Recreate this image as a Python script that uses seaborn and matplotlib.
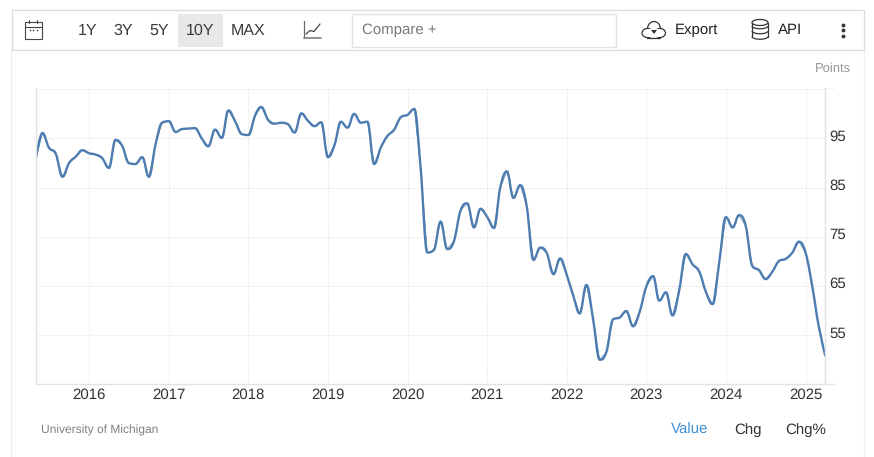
""" Consumer sentiment chart with its toolbar, as seen on the source page. """

import matplotlib.pyplot as plt
import numpy as np
import pandas as pd
import seaborn as sns
from matplotlib.patches import Arc, Ellipse, PathPatch, Polygon, Rectangle
from matplotlib.path import Path
from matplotlib.transforms import ScaledTranslation

# Monthly index values, May 2015 to April 2025
values_2015 = [90.7, 96.1, 93.1, 91.9, 87.2, 90.0, 91.3, 92.6]
values_2016 = [92.0, 91.7, 91.0, 89.0, 94.7, 93.5, 90.0, 89.8, 91.2, 87.2, 93.8, 98.2]
values_2017 = [98.5, 96.3, 96.9, 97.0, 97.1, 95.0, 93.4, 96.8, 95.1, 100.7, 98.5, 95.9]
values_2018 = [95.7, 99.7, 101.4, 98.8, 98.0, 98.2, 97.9, 96.2, 100.1, 98.6, 97.5, 98.3]
values_2019 = [91.2, 93.8, 98.4, 97.2, 100.0, 98.2, 98.4, 89.8, 93.2, 95.5, 96.8, 99.3]
values_2020 = [99.8, 101.0, 89.1, 71.8, 72.3, 78.1, 72.5, 74.1, 80.4, 81.8, 76.9, 80.7]
values_2021 = [79.0, 76.8, 84.9, 88.3, 82.9, 85.5, 81.2, 70.3, 72.8, 71.7, 67.4, 70.6]
values_2022 = [67.2, 62.8, 59.4, 65.2, 58.4, 50.0, 51.5, 58.2, 58.6, 59.9, 56.8, 59.7]
values_2023 = [64.9, 67.0, 62.0, 63.7, 59.0, 64.2, 71.5, 69.4, 67.9, 63.8, 61.3, 69.7]
values_2024 = [79.0, 76.9, 79.4, 77.2, 69.1, 68.2, 66.4, 67.9, 70.1, 70.5, 71.8, 74.0]
values_2025 = [71.7, 64.7, 57.0, 50.8]

year_ticks = list(range(2016, 2026))
value_ticks = [55, 65, 75, 85, 95]
range_buttons = ['1Y', '3Y', '5Y', '10Y', 'MAX']
view_tabs = ['Value', 'Chg', 'Chg%']

LINE = '#4d7cb1'
BORDER = '#e2e2e2'
DARK = '#333333'

W, H = 874, 457


def spline_path(x, y, smoothing=1.5):
    """ Curve through the monthly points, with flat tops at local extremes. """
    verts = [(x[0], y[0])]
    codes = [Path.MOVETO]
    right_x, right_y = x[0], y[0]
    for i in range(1, len(x)):
        if i < len(x) - 1:
            left_x = (smoothing*x[i] + x[i-1])/(smoothing + 1)
            left_y = (smoothing*y[i] + y[i-1])/(smoothing + 1)
            next_x = (smoothing*x[i] + x[i+1])/(smoothing + 1)
            next_y = (smoothing*y[i] + y[i+1])/(smoothing + 1)
            shift = (next_y - left_y)*(next_x - x[i])/(next_x - left_x) + y[i] - next_y
            left_y += shift
            next_y += shift
            low, high = min(y[i-1], y[i]), max(y[i-1], y[i])
            if left_y > high or left_y < low:
                left_y = high if left_y > high else low
                next_y = 2*y[i] - left_y
            low, high = min(y[i+1], y[i]), max(y[i+1], y[i])
            if next_y > high or next_y < low:
                next_y = high if next_y > high else low
                left_y = 2*y[i] - next_y
        else:
            left_x, left_y = x[i], y[i]
            next_x, next_y = x[i], y[i]
        verts += [(right_x, right_y), (left_x, left_y), (x[i], y[i])]
        codes += [Path.CURVE4]*3
        right_x, right_y = next_x, next_y
    return Path(verts, codes)


sns.set_theme(style='white')
plt.rcParams['font.family'] = ['Liberation Sans', 'DejaVu Sans']
plt.rcParams['text.hinting'] = 'no_hinting'
plt.rcParams['text.hinting_factor'] = 1

values = (values_2015 + values_2016 + values_2017 + values_2018 + values_2019
          + values_2020 + values_2021 + values_2022 + values_2023 + values_2024
          + values_2025)
months = pd.date_range('2015-05-01', periods=len(values), freq='MS')
df = pd.DataFrame({'month': months, 'value': values})

fig = plt.figure(figsize=(W/100, H/100), dpi=100, facecolor='white')

# Chart area, placed by pixel
left, right, top, bottom = 35.7, 825.3, 88.3, 384.3
ax = fig.add_axes([left/W, 1 - bottom/H, (right - left)/W, (bottom - top)/H])
sns.lineplot(data=df, x='month', y='value', color=LINE, lw=0.5, ax=ax)

line = ax.get_lines()[0]
x_data = np.asarray(ax.convert_xunits(line.get_xdata()), dtype=float)
ax.add_patch(PathPatch(spline_path(x_data, np.array(values)), fill=False,
                       ec=LINE, lw=1.7, capstyle='round', joinstyle='round'))

ax.set_xlim(months[0], months[-1])
ax.set_ylim(45, 105.2)
ax.set_xlabel('')
ax.set_ylabel('')

ax.set_xticks([pd.Timestamp(f'{y}-01-01') for y in year_ticks])
ax.set_xticklabels(year_ticks)
ax.yaxis.tick_right()
ax.set_yticks(value_ticks + [105])
ax.set_yticklabels([str(v) for v in value_ticks] + [''])
ax.tick_params(axis='x', length=0, pad=3, labelsize=11, labelcolor=DARK)
ax.tick_params(axis='y', length=0, pad=3, labelsize=11, labelcolor=DARK)
nudge = ScaledTranslation(0, 1.5/100, fig.dpi_scale_trans)
for label in ax.get_yticklabels():
    label.set_verticalalignment('center')
    label.set_transform(label.get_transform() + nudge)

ax.grid(True, color='#e4e4e4', lw=0.7, ls=(0, (1, 1)))
ax.set_axisbelow(True)
for side, spine in ax.spines.items():
    spine.set_visible(side != 'top')
    spine.set_color(BORDER)
    spine.set_linewidth(1.0)

# Toolbar and frame, in pixel coordinates
ui = fig.add_axes([0, 0, 1, 1], zorder=-1)
ui.set_xlim(0, W)
ui.set_ylim(H, 0)
ui.axis('off')

ui.plot([11, 11], [50, H], color='#f0f0f0', lw=1)
ui.plot([864, 864], [50, H], color='#f0f0f0', lw=1)
ui.plot([825, 834], [384.3, 384.3], color=BORDER, lw=1)
ui.plot([825, 834], [88.3, 88.3], color='#e4e4e4', lw=0.7, ls=(0, (1, 1)))
ui.add_patch(Rectangle((11.5, 9.5), 852.5, 40.5, fc='white', ec='#dcdcdc', lw=1))
ui.add_patch(Rectangle((178, 14), 45, 33, fc='#e8e8e9', ec='none'))
ui.add_patch(Rectangle((351.5, 13.5), 264, 33, fc='white', ec='#e2e2e2', lw=1))

for label, cx in zip(range_buttons, [88, 123.5, 159, 200, 248]):
    ui.text(cx, 30.5, label, ha='center', va='center', fontsize=11.2, color='#3c3c3c')
ui.text(362, 30, 'Compare +', ha='left', va='center', fontsize=10.8, color='#7a7a7a')
ui.text(675, 30, 'Export', ha='left', va='center', fontsize=11, color='#222222')
ui.text(778, 30, 'API', ha='left', va='center', fontsize=11, color='#222222')
ui.text(851, 68.5, 'Points', ha='right', va='center', fontsize=9, color='#999999')
ui.text(41, 430.5, 'University of Michigan', ha='left', va='center', fontsize=8.6, color='#808080')
for label, cx, col in zip(view_tabs, [689.5, 747.5, 805.5], ['#3f8fd2', DARK, DARK]):
    ui.text(cx, 430, label, ha='center', va='center', fontsize=10.8, color=col)

# Calendar icon
ui.add_patch(Rectangle((24.5, 22), 17, 17, fc='none', ec='#444444', lw=0.8))
ui.plot([24.5, 41.5], [26.5, 26.5], color='#444444', lw=0.8)
ui.plot([29, 29], [20, 23], color='#444444', lw=0.8)
ui.plot([37, 37], [20, 23], color='#444444', lw=0.8)
ui.plot([29.5, 33, 36.5], [30, 30, 30], ls='none', marker='s', ms=1, mew=0, color='#333333')

# Chart type icon
ui.plot([303.5, 303.5], [21, 38], color='#666666', lw=0.9)
ui.plot([303.5, 320.5], [38, 38], color='#888888', lw=1.3)
ui.plot([306, 310, 314, 320], [34, 30.5, 31.5, 24], color='#444444', lw=0.9)

# Export cloud
ui.add_patch(Ellipse((654, 29), 13, 15, fc='white', ec='#333333', lw=0.9))
ui.add_patch(Ellipse((647.5, 33), 11, 9, fc='white', ec='#333333', lw=0.9))
ui.add_patch(Ellipse((660, 33), 11, 9, fc='white', ec='#333333', lw=0.9))
ui.add_patch(Rectangle((647, 29), 13, 8, fc='white', ec='none', zorder=3))
ui.plot([647, 660], [37.5, 37.5], color='#333333', lw=0.9, zorder=4)
ui.add_patch(Polygon([(651, 30), (657, 30), (654, 34)], fc='#333333', ec='none', zorder=4))

# API database
for cy in [26, 31, 36.5]:
    ui.add_patch(Arc((760, cy), 16, 5.5, theta1=0, theta2=180, ec='#333333', lw=0.9))
ui.add_patch(Ellipse((760, 22.5), 16, 6, fc='none', ec='#333333', lw=0.9))
ui.plot([752, 752], [22.5, 36.5], color='#333333', lw=0.9)
ui.plot([768, 768], [22.5, 36.5], color='#333333', lw=0.9)

# Menu dots
ui.plot([843, 843, 843], [24.5, 30, 35.5], ls='none', marker='o', ms=2.8, mew=0, color='#333333')

fig.savefig('out.png', dpi=100)
